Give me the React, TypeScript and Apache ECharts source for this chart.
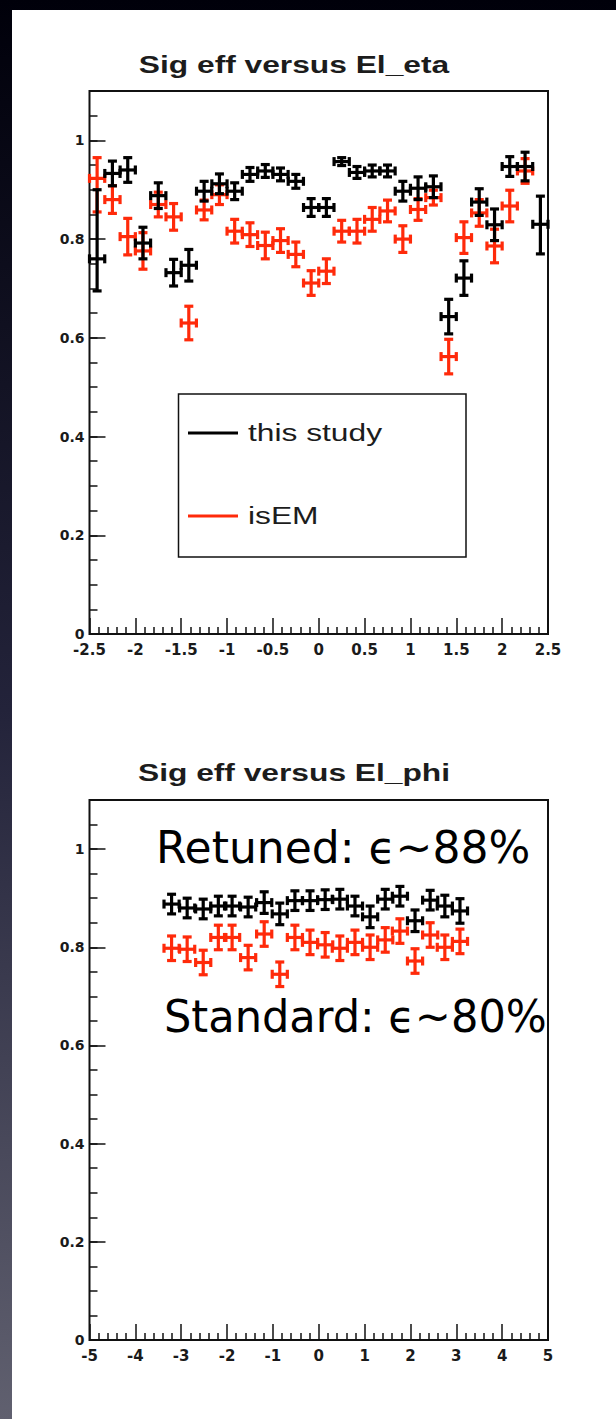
import React, { useEffect, useRef } from 'react';
import * as echarts from 'echarts';

// ---------- data: top panel (El_eta) ----------
const etaCenters = [
  -2.417, -2.25, -2.083, -1.917, -1.75, -1.583, -1.417, -1.25, -1.083, -0.917,
  -0.75, -0.583, -0.417, -0.25, -0.083, 0.083, 0.25, 0.417, 0.583, 0.75,
  0.917, 1.083, 1.25, 1.417, 1.583, 1.75, 1.917, 2.083, 2.25, 2.417,
];
const etaHalfWidth = 0.083;

const studyEta = [
  0.76, 0.933, 0.94, 0.792, 0.888, 0.732, 0.747, 0.897, 0.912, 0.897,
  0.931, 0.938, 0.931, 0.917, 0.864, 0.864, 0.957, 0.935, 0.938, 0.938,
  0.897, 0.903, 0.906, 0.643, 0.721, 0.875, 0.829, 0.947, 0.947, 0.83,
];
const studyEtaErrUp = [
  0.14, 0.025, 0.025, 0.032, 0.026, 0.027, 0.032, 0.02, 0.02, 0.017,
  0.014, 0.013, 0.013, 0.014, 0.018, 0.018, 0.008, 0.012, 0.012, 0.012,
  0.02, 0.023, 0.022, 0.035, 0.035, 0.027, 0.032, 0.02, 0.029, 0.057,
];
const studyEtaErrDown = [
  0.065, 0.025, 0.025, 0.032, 0.026, 0.027, 0.032, 0.02, 0.02, 0.017,
  0.014, 0.013, 0.013, 0.014, 0.018, 0.018, 0.008, 0.012, 0.012, 0.012,
  0.02, 0.023, 0.022, 0.035, 0.035, 0.027, 0.032, 0.02, 0.029, 0.06,
];

const isemEta = [
  0.923, 0.88, 0.805, 0.776, 0.87, 0.845, 0.63, 0.859, 0.89, 0.816,
  0.809, 0.787, 0.797, 0.769, 0.711, 0.735, 0.816, 0.816, 0.84, 0.857,
  0.8, 0.86, 0.884, 0.562, 0.803, 0.853, 0.786, 0.867, 0.938,
];
const isemEtaErrUp = [
  0.042, 0.028, 0.037, 0.037, 0.025, 0.027, 0.034, 0.02, 0.02, 0.024,
  0.024, 0.027, 0.024, 0.025, 0.025, 0.025, 0.022, 0.024, 0.024, 0.022,
  0.027, 0.022, 0.015, 0.035, 0.032, 0.027, 0.034, 0.032, 0.025,
];
const isemEtaErrDown = [
  0.068, 0.028, 0.037, 0.037, 0.025, 0.027, 0.034, 0.02, 0.02, 0.024,
  0.024, 0.027, 0.024, 0.025, 0.025, 0.025, 0.022, 0.024, 0.024, 0.022,
  0.027, 0.022, 0.015, 0.035, 0.032, 0.027, 0.034, 0.032, 0.025,
];

// ---------- data: bottom panel (El_phi) ----------
const phiCenters = [
  -3.21, -2.87, -2.52, -2.19, -1.89, -1.54, -1.19, -0.85, -0.52, -0.19,
  0.14, 0.46, 0.79, 1.12, 1.45, 1.77, 2.1, 2.43, 2.75, 3.08,
];
const phiHalfWidth = 0.165;

const studyPhi = [
  0.888, 0.88, 0.878, 0.884, 0.884, 0.882, 0.891, 0.868, 0.895, 0.895,
  0.897, 0.898, 0.884, 0.862, 0.898, 0.904, 0.854, 0.896, 0.884, 0.874,
];
const studyPhiErr = [
  0.02, 0.02, 0.02, 0.02, 0.02, 0.02, 0.022, 0.022, 0.02, 0.02,
  0.02, 0.02, 0.02, 0.022, 0.02, 0.02, 0.022, 0.02, 0.022, 0.025,
];
const isemPhi = [
  0.798, 0.796, 0.769, 0.82, 0.82, 0.779, 0.827, 0.745, 0.82, 0.81,
  0.805, 0.798, 0.81, 0.8, 0.815, 0.833, 0.772, 0.825, 0.8, 0.812,
];
const isemPhiErr = [
  0.025, 0.025, 0.025, 0.025, 0.025, 0.025, 0.025, 0.025, 0.025, 0.025,
  0.025, 0.025, 0.025, 0.025, 0.025, 0.025, 0.025, 0.025, 0.025, 0.025,
];

const etaTitle = 'Sig eff versus El_eta';
const phiTitle = 'Sig eff versus El_phi';
const legendLabels = ['this study', 'isEM'];
const noteRetuned = 'Retuned: ϵ~88%';
const noteStandard = 'Standard: ϵ~80%';

const BLACK = '#000000';
const RED = '#ff2a0a';
const INK = '#111111';

function buildPoints(xs: number[], ys: number[], up: number[], down: number[], hw: number) {
  return ys.map((y, i) => [xs[i], y, y - down[i], y + up[i], hw]);
}

function makeCross(color: string) {
  return (params: any, api: any) => {
    const x = api.value(0);
    const y = api.value(1);
    const lo = api.value(2);
    const hi = api.value(3);
    const hw = api.value(4);
    const c = api.coord([x, y]);
    const pLo = api.coord([x, lo]);
    const pHi = api.coord([x, hi]);
    const pL = api.coord([x - hw, y]);
    const pR = api.coord([x + hw, y]);
    const style = { stroke: color, lineWidth: 3.2, lineCap: 'butt' };
    const cap = 4.5;
    return {
      type: 'group',
      children: [
        { type: 'line', shape: { x1: c[0], y1: pHi[1], x2: c[0], y2: pLo[1] }, style },
        { type: 'line', shape: { x1: c[0] - cap, y1: pHi[1], x2: c[0] + cap, y2: pHi[1] }, style },
        { type: 'line', shape: { x1: c[0] - cap, y1: pLo[1], x2: c[0] + cap, y2: pLo[1] }, style },
        { type: 'line', shape: { x1: pL[0], y1: c[1], x2: pR[0], y2: c[1] }, style },
        { type: 'line', shape: { x1: pL[0], y1: c[1] - cap, x2: pL[0], y2: c[1] + cap }, style },
        { type: 'line', shape: { x1: pR[0], y1: c[1] - cap, x2: pR[0], y2: c[1] + cap }, style },
      ],
    };
  };
}

const labelStyle = {
  fontFamily: 'DejaVu Sans',
  fontWeight: 'bold' as const,
  color: '#1a1a1a',
};
const tickLine = { color: INK, width: 1.5 };

function xAxisFor(gridIndex: number, min: number, max: number, interval: number) {
  return {
    type: 'value',
    gridIndex,
    min,
    max,
    interval,
    axisLine: { show: false, onZero: false },
    axisTick: { show: true, inside: true, length: 16, lineStyle: tickLine },
    minorTick: { show: true, splitNumber: 5, length: 7, lineStyle: tickLine },
    splitLine: { show: false },
    minorSplitLine: { show: false },
    axisLabel: { ...labelStyle, fontSize: 15, margin: 8 },
  };
}

function yAxesFor(gridIndex: number) {
  return [
    {
      type: 'value',
      gridIndex,
      position: 'left',
      min: 0,
      max: 1.1,
      interval: 0.2,
      axisLine: { show: false, onZero: false },
      axisTick: { show: true, inside: true, length: 16, lineStyle: tickLine },
      splitLine: { show: false },
      axisLabel: {
        ...labelStyle,
        fontSize: 14,
        margin: 5,
        formatter: (v: number) => (v > 1.05 ? '' : String(Math.round(v * 10) / 10)),
      },
    },
    {
      type: 'value',
      gridIndex,
      position: 'left',
      min: 0,
      max: 1.1,
      interval: 0.05,
      axisLine: { show: false, onZero: false },
      axisTick: { show: true, inside: true, length: 8, lineStyle: tickLine },
      splitLine: { show: false },
      axisLabel: { show: false },
    },
  ];
}

function titleText(text: string, y: number) {
  return {
    type: 'text',
    x: 294,
    y,
    scaleX: 1.38,
    z: 50,
    style: {
      text,
      fill: '#1c1c1c',
      fontFamily: 'Liberation Sans',
      fontWeight: 'bold',
      fontSize: 23,
      textAlign: 'center',
      textVerticalAlign: 'middle',
      align: 'center',
      verticalAlign: 'middle',
    },
  };
}

function legendText(text: string, y: number) {
  return {
    type: 'text',
    x: 248,
    y,
    scaleX: 1.38,
    z: 51,
    style: {
      text,
      fill: '#1c1c1c',
      fontFamily: 'Liberation Sans',
      fontSize: 23,
      textAlign: 'left',
      textVerticalAlign: 'middle',
      align: 'left',
      verticalAlign: 'middle',
    },
  };
}

function noteText(text: string, x: number, y: number, sx: number) {
  return {
    type: 'text',
    x,
    y,
    scaleX: sx,
    z: 60,
    style: {
      text,
      fill: '#000000',
      fontFamily: 'DejaVu Sans',
      fontSize: 44,
      textAlign: 'left',
      textVerticalAlign: 'middle',
      align: 'left',
      verticalAlign: 'middle',
    },
  };
}

export default function App() {
  const ref = useRef<HTMLDivElement>(null);

  useEffect(() => {
    document.body.style.margin = '0';
    if (!ref.current) return;
    const chart = echarts.init(ref.current, null, { renderer: 'svg' });

    const option: any = {
      animation: false,
      grid: [
        { left: 89.5, top: 91, width: 458.5, height: 543, show: true, borderColor: INK, borderWidth: 2, backgroundColor: 'transparent' },
        { left: 89.5, top: 800, width: 458.5, height: 540, show: true, borderColor: INK, borderWidth: 2, backgroundColor: 'transparent' },
      ],
      xAxis: [xAxisFor(0, -2.5, 2.5, 0.5), xAxisFor(1, -5, 5, 1)],
      yAxis: [...yAxesFor(0), ...yAxesFor(1)],
      series: [
        {
          type: 'custom',
          name: legendLabels[1],
          xAxisIndex: 0,
          yAxisIndex: 0,
          clip: false,
          z: 2,
          itemStyle: { color: RED },
          encode: { x: 0, y: 1 },
          data: buildPoints(etaCenters, isemEta, isemEtaErrUp, isemEtaErrDown, etaHalfWidth),
          renderItem: makeCross(RED),
        },
        {
          type: 'custom',
          name: legendLabels[0],
          xAxisIndex: 0,
          yAxisIndex: 0,
          clip: false,
          z: 3,
          itemStyle: { color: BLACK },
          encode: { x: 0, y: 1 },
          data: buildPoints(etaCenters, studyEta, studyEtaErrUp, studyEtaErrDown, etaHalfWidth),
          renderItem: makeCross(BLACK),
        },
        {
          type: 'custom',
          name: legendLabels[1],
          xAxisIndex: 1,
          yAxisIndex: 2,
          clip: false,
          z: 2,
          itemStyle: { color: RED },
          encode: { x: 0, y: 1 },
          data: buildPoints(phiCenters, isemPhi, isemPhiErr, isemPhiErr, phiHalfWidth),
          renderItem: makeCross(RED),
        },
        {
          type: 'custom',
          name: legendLabels[0],
          xAxisIndex: 1,
          yAxisIndex: 2,
          clip: false,
          z: 3,
          itemStyle: { color: BLACK },
          encode: { x: 0, y: 1 },
          data: buildPoints(phiCenters, studyPhi, studyPhiErr, studyPhiErr, phiHalfWidth),
          renderItem: makeCross(BLACK),
        },
      ],
      graphic: [
        {
          type: 'rect',
          z: -10,
          silent: true,
          shape: { x: 0, y: 0, width: 616, height: 1419 },
          style: {
            fill: {
              type: 'linear', x: 0, y: 0, x2: 0, y2: 1,
              colorStops: [
                { offset: 0, color: '#00000a' },
                { offset: 0.5, color: '#23233a' },
                { offset: 1, color: '#60606f' },
              ],
            },
          },
        },
        {
          type: 'rect',
          z: -9,
          silent: true,
          shape: { x: 12, y: 10, width: 604, height: 1409 },
          style: { fill: '#ffffff' },
        },
        titleText(etaTitle, 65),
        titleText(phiTitle, 773),
        {
          type: 'rect',
          z: 40,
          shape: { x: 178.5, y: 394, width: 287.5, height: 163 },
          style: { fill: '#ffffff', stroke: INK, lineWidth: 1.5 },
        },
        {
          type: 'line',
          z: 41,
          shape: { x1: 188, y1: 433, x2: 238, y2: 433 },
          style: { stroke: BLACK, lineWidth: 3 },
        },
        {
          type: 'line',
          z: 41,
          shape: { x1: 188, y1: 516, x2: 238, y2: 516 },
          style: { stroke: RED, lineWidth: 3 },
        },
        legendText(legendLabels[0], 433),
        legendText(legendLabels[1], 516),
        noteText(noteRetuned, 156, 847, 1),
        noteText(noteStandard, 164, 1017, 0.98),
      ],
    };

    chart.setOption(option);
    return () => chart.dispose();
  }, []);

  return (
    <div
      ref={ref}
      style={{ position: 'absolute', left: 0, top: 0, width: 616, height: 1419 }}
    />
  );
}
